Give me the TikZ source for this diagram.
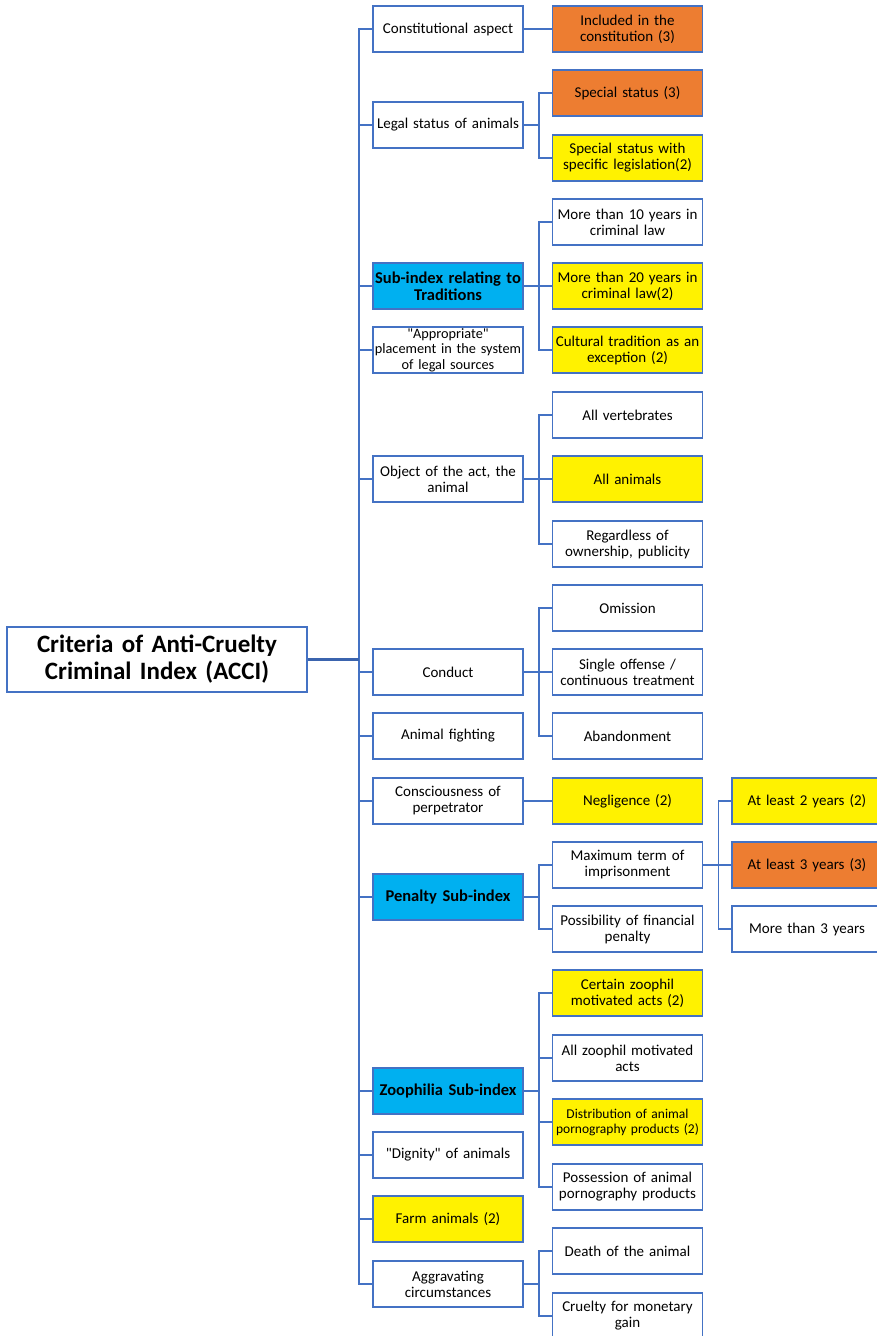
\documentclass[tikz,border=0pt]{standalone}
\usepackage{fontspec}
\setmainfont{Carlito}
\definecolor{frame}{HTML}{4472C4}
\definecolor{trunk}{HTML}{3B64AE}
\definecolor{hotfill}{HTML}{ED7D31}
\definecolor{subfill}{HTML}{00B0F0}
\begin{document}
\begin{tikzpicture}[x=1pt,y=-1pt,
  box/.style={draw=frame, line width=1.6pt, fill=white, minimum width=150pt,
    minimum height=46pt, text width=150pt, align=center, inner sep=0pt,
    font=\fontsize{15}{16}\selectfont},
  hot/.style={box, fill=hotfill},
  mid/.style={box, fill=yellow},
  sub/.style={box, fill=subfill, font=\bfseries\fontsize{16.5}{17}\selectfont},
  link/.style={draw=frame, line width=1.6pt}]
\useasboundingbox (0,0) rectangle (876,1336);
% root
\node[box, minimum width=300pt, minimum height=65pt, text width=296pt,
  font=\bfseries\fontsize{25}{27}\selectfont] (root) at (157,659.5)
  {Criteria of Anti-Cruelty\\Criminal Index (ACCI)};
% first level
\node[box] (const) at (448,29) {Constitutional aspect};
\node[box] (legal) at (448,125) {Legal status of animals};
\node[sub] (trad) at (448,286) {Sub-index relating to\\Traditions};
\node[box, font=\fontsize{14.3}{15.5}\selectfont] (place) at (448,350)
  {\textquotedbl Appropriate\textquotedbl\\placement in the system\\of legal sources};
\node[box] (object) at (448,479) {Object of the act, the\\animal};
\node[box] (conduct) at (448,672) {Conduct};
\node[box] (fight) at (448,736) {Animal fighting};
\node[box] (consc) at (448,801) {Consciousness of\\perpetrator};
\node[sub] (penalty) at (448,897) {Penalty Sub-index};
\node[sub] (zoo) at (448,1091) {Zoophilia Sub-index};
\node[box] (dignity) at (448,1155) {\textquotedbl Dignity\textquotedbl\ of animals};
\node[mid] (farm) at (448,1219) {Farm animals (2)};
\node[box] (aggr) at (448,1284) {Aggravating\\circumstances};
% second level
\node[hot] (incl) at (627.5,29) {Included in the\\constitution (3)};
\node[hot] (spec) at (627.5,93) {Special status (3)};
\node[mid] (specleg) at (627.5,158) {Special status with\\specific legislation(2)};
\node[box] (ten) at (627.5,222) {More than 10 years in\\criminal law};
\node[mid] (twenty) at (627.5,286) {More than 20 years in\\criminal law(2)};
\node[mid] (cult) at (627.5,350) {Cultural tradition as an\\exception (2)};
\node[box] (vert) at (627.5,415) {All vertebrates};
\node[mid] (allan) at (627.5,479) {All animals};
\node[box] (owner) at (627.5,544) {Regardless of\\ownership, publicity};
\node[box] (omis) at (627.5,608) {Omission};
\node[box] (single) at (627.5,672) {Single offense /\\continuous treatment};
\node[box] (aband) at (627.5,736) {Abandonment};
\node[mid] (negl) at (627.5,801) {Negligence (2)};
\node[box] (maxterm) at (627.5,865) {Maximum term of\\imprisonment};
\node[box] (fine) at (627.5,929) {Possibility of financial\\penalty};
\node[mid] (certain) at (627.5,993) {Certain zoophil\\motivated acts (2)};
\node[box] (allzoo) at (627.5,1058) {All zoophil motivated\\acts};
\node[mid, font=\fontsize{13.5}{15}\selectfont] (distr) at (627.5,1122)
  {Distribution of animal\\pornography products (2)};
\node[box] (poss) at (627.5,1187) {Possession of animal\\pornography products};
\node[box] (death) at (627.5,1251) {Death of the animal};
\node[box] (money) at (627.5,1316) {Cruelty for monetary\\gain};
% third level
\node[mid] (two) at (807,801) {At least 2 years (2)};
\node[hot] (three) at (807,865) {At least 3 years (3)};
\node[box] (more) at (807,929) {More than 3 years};
% connectors
\foreach \n in {const,legal,trad,place,object,conduct,fight,consc,penalty,zoo,dignity,farm,aggr}
  \draw[link] (root.east) ++(51,0) |- (\n.west);
\draw[link, draw=trunk, line width=2.4pt] (root.east) -- ++(51,0);
\foreach \p/\c in {const/incl,legal/spec,legal/specleg,trad/ten,trad/twenty,trad/cult,
    object/vert,object/allan,object/owner,conduct/omis,conduct/single,conduct/aband,
    consc/negl,penalty/maxterm,penalty/fine,zoo/certain,zoo/allzoo,zoo/distr,zoo/poss,
    aggr/death,aggr/money,maxterm/two,maxterm/three,maxterm/more}
  \draw[link] (\p.east) -- ++(15,0) |- (\c.west);
\end{tikzpicture}
\end{document}
